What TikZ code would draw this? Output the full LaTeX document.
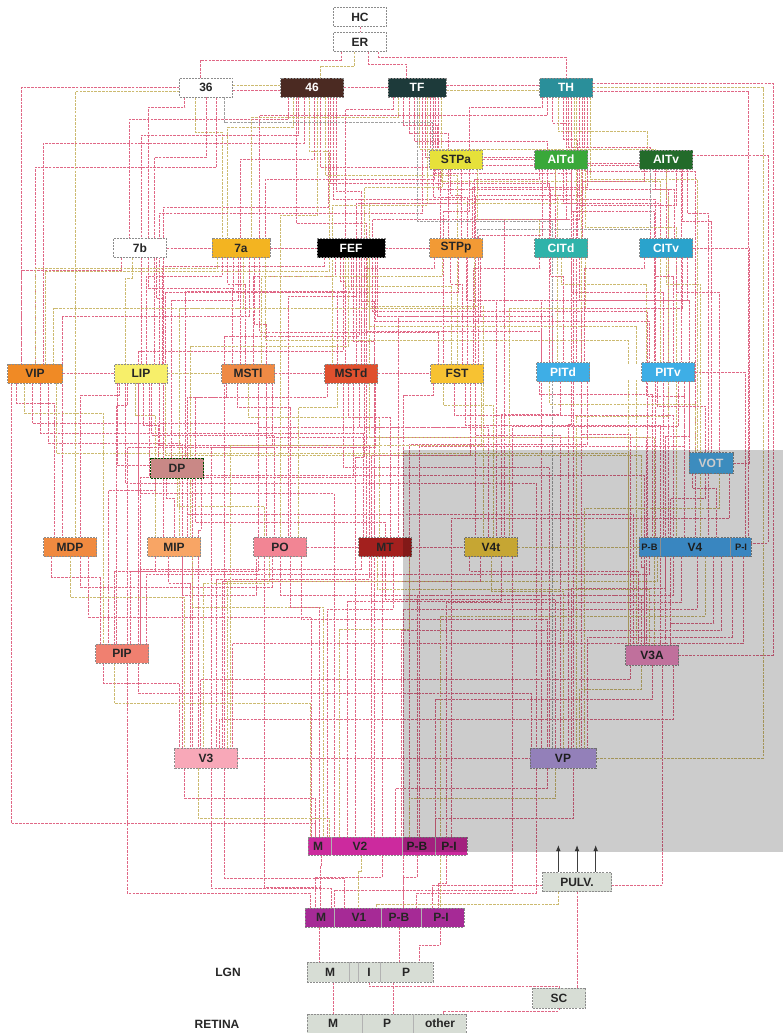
\documentclass[tikz,border=0pt]{standalone}
\usepackage{fontspec}
\setmainfont{Liberation Sans}
\usetikzlibrary{backgrounds,arrows.meta}
\definecolor{lr}{RGB}{224,104,134}
\definecolor{ly}{RGB}{204,186,112}
\definecolor{lg}{RGB}{160,160,160}
\definecolor{c46}{RGB}{75,42,34}
\definecolor{cTF}{RGB}{29,58,58}
\definecolor{cTH}{RGB}{42,143,154}
\definecolor{cSTPa}{RGB}{230,225,58}
\definecolor{cAITd}{RGB}{58,168,58}
\definecolor{cAITv}{RGB}{35,107,42}
\definecolor{c7a}{RGB}{243,180,33}
\definecolor{cSTPp}{RGB}{242,154,53}
\definecolor{cCITd}{RGB}{47,179,170}
\definecolor{cCITv}{RGB}{42,163,204}
\definecolor{cVIP}{RGB}{240,138,37}
\definecolor{cLIP}{RGB}{247,239,106}
\definecolor{cMSTl}{RGB}{239,138,69}
\definecolor{cMSTd}{RGB}{224,80,46}
\definecolor{cFST}{RGB}{247,194,50}
\definecolor{cPIT}{RGB}{62,174,230}
\definecolor{cDP}{RGB}{201,136,134}
\definecolor{cVOT}{RGB}{75,175,238}
\definecolor{cMDP}{RGB}{240,138,64}
\definecolor{cMIP}{RGB}{248,165,101}
\definecolor{cPO}{RGB}{242,133,148}
\definecolor{cMT}{RGB}{163,32,30}
\definecolor{cV4t}{RGB}{248,208,64}
\definecolor{cV4}{RGB}{72,168,240}
\definecolor{cPIP}{RGB}{240,128,112}
\definecolor{cV3A}{RGB}{240,140,196}
\definecolor{cV3}{RGB}{248,168,184}
\definecolor{cVP}{RGB}{184,160,232}
\definecolor{cV2}{RGB}{204,42,158}
\definecolor{cV1}{RGB}{166,42,150}
\definecolor{cSub}{RGB}{215,221,213}
\begin{document}
\begin{tikzpicture}[x=0.75pt,y=-0.75pt,
  ar/.style={draw=black!45, dash pattern=on 1.5pt off 0.8pt, line width=0.4pt, inner sep=0pt,
     minimum height=14.25pt, minimum width=39.75pt, font=\bfseries\fontsize{9}{9}\selectfont, text=black!85},
  wt/.style={text=white},
  lbl/.style={font=\bfseries\fontsize{9}{9}\selectfont, inner sep=0pt, text=black!85},
  sml/.style={font=\bfseries\fontsize{7}{7}\selectfont, inner sep=0pt, text=black!85},
  cn/.style={line width=0.3pt, dash pattern=on 2pt off 0.8pt},
  dv/.style={draw=black!30, line width=0.3pt}]
\useasboundingbox (0,0) rectangle (783,1033);
% ---------- nodes ----------
\node[ar, fill=white] (HC) at (360,17) {HC};
\node[ar, fill=white] (ER) at (360,42) {ER};
\node[ar, fill=white] (a36) at (206,87.5) {36};
\node[ar, fill=c46, wt, minimum width=47.25pt] (a46) at (312,87.5) {46};
\node[ar, fill=cTF, wt, minimum width=43.5pt] (TF) at (417,87.5) {TF};
\node[ar, fill=cTH, wt] (TH) at (566,87.5) {TH};
\node[ar, fill=cSTPa] (STPa) at (456,159.5) {STPa};
\node[ar, fill=cAITd, wt] (AITd) at (561,159.5) {AITd};
\node[ar, fill=cAITv, wt] (AITv) at (666,159.5) {AITv};
\node[ar, fill=white] (a7b) at (140,248) {7b};
\node[ar, fill=c7a, minimum width=43.5pt] (a7a) at (241,248) {7a};
\node[ar, fill=black, wt, minimum width=51pt] (FEF) at (351,248) {FEF};
\node[ar, fill=cSTPp] (STPp) at (456,248) {STPp};
\node[ar, fill=cCITd, wt] (CITd) at (561,248) {CITd};
\node[ar, fill=cCITv, wt] (CITv) at (666,248) {CITv};
\node[ar, fill=cVIP, minimum width=41.25pt] (VIP) at (35,373.5) {VIP};
\node[ar, fill=cLIP] (LIP) at (141,373.5) {LIP};
\node[ar, fill=cMSTl] (MSTl) at (248,373.5) {MSTl};
\node[ar, fill=cMSTd] (MSTd) at (351,373.5) {MSTd};
\node[ar, fill=cFST] (FST) at (457,373.5) {FST};
\node[ar, fill=cPIT, wt] (PITd) at (563,372) {PITd};
\node[ar, fill=cPIT, wt] (PITv) at (668,372) {PITv};
\node[ar, fill=cDP, draw=green!30!black, minimum height=15pt] (DP) at (177,468) {DP};
\node[ar, fill=cVOT, wt, minimum width=33pt, minimum height=15.75pt] (VOT) at (711,463) {VOT};
\node[ar, fill=cMDP] (MDP) at (70,547) {MDP};
\node[ar, fill=cMIP] (MIP) at (174,547) {MIP};
\node[ar, fill=cPO] (PO) at (280,547) {PO};
\node[ar, fill=cMT] (MT) at (385,547) {MT};
\node[ar, fill=cV4t] (V4t) at (491,547) {V4t};
\node[ar, fill=cV4, minimum width=84pt] (V4) at (695,547) {V4};
\node[sml] (V4b) at (649.5,547) {P-B};
\node[sml] (V4i) at (741,547) {P-I};
\draw[dv] (660,538) -- (660,556);
\draw[dv] (730,538) -- (730,556);
\node[ar, fill=cPIP] (PIP) at (122,653.5) {PIP};
\node[ar, fill=cV3A, minimum height=15pt] (V3A) at (652,655) {V3A};
\node[ar, fill=cV3, minimum width=47.25pt, minimum height=15pt] (V3) at (206,758) {V3};
\node[ar, fill=cVP, minimum width=49.5pt, minimum height=15pt] (VP) at (563,758) {VP};
% V2
\node[ar, fill=cV2, minimum width=119.25pt, minimum height=13.5pt] (V2) at (387.5,846) {};
\node[lbl] (V2m) at (318,846) {M};
\node[lbl] (V2t) at (360,846) {V2};
\node[lbl] (V2b) at (417,846) {P-B};
\node[lbl] (V2i) at (449,846) {P-I};
\draw[dv] (331,837) -- (331,855);
\draw[dv] (402,837) -- (402,855);
\draw[dv] (435,837) -- (435,855);
% PULV
\node[ar, fill=cSub, minimum width=51.75pt] (PULV) at (577,882) {PULV.};
% V1
\node[ar, fill=cV1, minimum height=14.25pt, minimum width=119.25pt] (V1) at (384.5,917.5) {};
\node[lbl] (V1m) at (321,917.5) {M};
\node[lbl] (V1t) at (359,917.5) {V1};
\node[lbl] (V1b) at (399,917.5) {P-B};
\node[lbl] (V1i) at (441,917.5) {P-I};
\draw[dv] (334,908) -- (334,927);
\draw[dv] (381,908) -- (381,927);
\draw[dv] (421,908) -- (421,927);
% LGN
\node[lbl] (lLGN) at (228,972) {LGN};
\node[ar, fill=cSub, minimum width=94.5pt, minimum height=15pt] (LGN) at (370,972) {};
\node[lbl] (LGNm) at (330,972) {M};
\node[lbl] (LGNi) at (369,972) {I};
\node[lbl] (LGNp) at (406,972) {P};
\draw[dv] (349,962) -- (349,982);
\draw[dv] (358,962) -- (358,982);
\draw[dv] (380,962) -- (380,982);
% SC
\node[ar, fill=cSub, minimum height=15pt] (SC) at (559,998) {SC};
% Retina
\node[lbl] (lRET) at (217,1024) {RETINA};
\node[ar, fill=cSub, minimum width=119.25pt, minimum height=14.25pt] (RET) at (386.5,1023.5) {};
\node[lbl] (RETm) at (333,1023.5) {M};
\node[lbl] (RETp) at (387,1023.5) {P};
\node[lbl] (RETo) at (440,1023.5) {other};
\draw[dv] (362,1014) -- (362,1033);
\draw[dv] (413,1014) -- (413,1033);
% white gaps
\fill[white] (589,240) rectangle (639,256);
\fill[white] (591,364) rectangle (641,380);
% ---------- connectors ----------
\begin{pgfonlayer}{background}
\fill[white] (0,0) rectangle (783,1033);
\draw[cn,draw=lr] (HC.south) -- (ER.north);
\foreach \a/\da/\h/\b/\db/\c in {
ER/-14/8/a36/-4/lr, ER/-4/14/a46/6/ly, ER/6/12/TF/-8/lr, ER/14/5/TH/0/lr,
a36/-16/10/a7b/6/lr, a36/-8/35/a7a/-14/ly, a36/0/60/LIP/10/lr, a36/8/70/VIP/0/lr, a36/14/25/STPa/-18/lg,
a46/-18/22/a7b/-8/lr, a46/-14/30/a7a/-10/ly, a46/-10/38/LIP/0/lr, a46/-6/46/VIP/6/lr, a46/-2/54/FEF/-16/ly,
a46/2/62/MSTl/-6/lr, a46/6/70/STPp/-12/lr, a46/10/78/FST/0/ly, a46/14/86/PITd/-10/lr, a46/18/94/MSTd/8/lr,
a46/16/102/V4/-30/lr, a46/12/110/DP/-10/lr, a46/4/118/PO/0/ly, a46/-12/126/MT/-14/lr,
TF/-18/12/FEF/-4/lr, TF/-14/20/a7a/8/ly, TF/-10/28/STPa/-14/lr, TF/-6/36/STPp/-6/lr, TF/-2/44/AITd/-10/lr,
TF/2/52/AITv/-8/ly, TF/6/60/CITd/-4/lr, TF/10/68/CITv/0/lr, TF/14/76/PITd/6/lr, TF/18/84/PITv/-6/ly,
TF/16/92/V4/-20/lr, TF/12/100/FST/8/lr, TF/8/108/MSTd/-14/ly, TF/4/116/LIP/14/lr, TF/0/124/VP/-8/lg,
TH/-18/10/STPa/10/lr, TH/-14/18/a7a/14/lr, TH/-10/26/AITd/8/lr, TH/-6/34/AITv/-14/ly, TH/-2/42/CITd/12/lr,
TH/2/50/CITv/-12/lr, TH/6/58/PITd/14/ly, TH/10/66/PITv/10/lr, TH/14/74/V4/0/lr, TH/18/82/VOT/-10/ly,
TH/16/90/STPp/12/lr, TH/12/98/FST/14/lr, TH/8/106/MSTd/14/ly, TH/4/114/VP/8/lr, TH/0/122/V4t/10/lr,
STPa/-16/10/a7a/18/lr, STPa/-10/18/FEF/10/ly, STPa/-4/26/STPp/4/lr, STPa/4/34/MSTd/4/lr, STPa/10/42/FST/-10/lr, STPa/16/50/CITd/-16/ly,
AITd/-16/10/STPp/14/lr, AITd/-10/18/CITd/-8/lr, AITd/-4/26/PITd/-4/ly, AITd/2/34/CITv/-4/lr, AITd/8/42/PITv/-10/lr,
AITd/14/50/FEF/16/lr, AITd/18/58/V4/-14/ly, AITd/-14/66/FST/16/lr,
AITv/-16/12/CITd/16/lr, AITv/-8/20/CITv/6/lr, AITv/0/28/PITv/0/ly, AITv/8/36/PITd/10/lr, AITv/16/44/V4/10/lr,
AITv/12/52/VOT/0/lr, AITv/-12/60/STPp/16/lg,
a7b/-14/12/VIP/-10/lr, a7b/-6/20/LIP/-12/ly, a7b/6/30/MSTl/-12/lr, a7b/12/40/MIP/-8/lr,
a7a/-18/10/VIP/0/ly, a7a/-14/18/LIP/4/lr, a7a/-10/26/MSTl/-2/lr, a7a/-6/34/MSTd/-10/lr, a7a/-2/42/DP/-4/lr,
a7a/2/50/MIP/4/ly, a7a/6/58/MDP/-6/lr, a7a/10/66/PO/-10/lr, a7a/14/74/FST/-14/lr, a7a/18/82/V3A/-18/ly,
FEF/-20/8/LIP/16/lr, FEF/-16/13/VIP/8/ly, FEF/-12/18/MSTl/4/lr, FEF/-8/23/MSTd/-4/lr, FEF/-4/28/FST/-4/ly,
FEF/0/33/DP/6/lr, FEF/4/38/PO/6/lr, FEF/8/43/MT/-8/lr, FEF/12/48/V4t/-6/ly, FEF/16/53/V4/-36/lr,
FEF/20/58/PITd/-8/lr, FEF/18/63/PITv/-14/lr, FEF/14/68/V3A/-12/ly, FEF/10/73/VP/-16/lr, FEF/6/78/V3/14/lr,
FEF/2/83/V2/-10/lr, FEF/-2/88/MIP/12/ly, FEF/-6/93/PIP/12/lr,
STPp/-16/10/MSTd/10/lr, STPp/-10/18/MSTl/10/ly, STPp/-4/26/FST/4/lr, STPp/2/34/LIP/18/lr, STPp/8/42/PITd/-16/lr,
STPp/14/50/VIP/14/ly, STPp/18/58/MT/10/lr,
CITd/-16/10/FST/12/lr, CITd/-8/18/PITd/0/lr, CITd/0/26/PITv/-16/ly, CITd/8/34/V4/-24/lr, CITd/14/42/VOT/-16/lr, CITd/18/50/V4t/14/ly,
CITv/-16/10/PITd/16/lr, CITv/-8/18/PITv/4/lr, CITv/0/26/V4/4/ly, CITv/8/34/VOT/6/lr, CITv/16/42/V4t/4/lr, CITv/12/50/VP/14/lr,
VIP/-14/20/MDP/-12/lr, VIP/-8/30/PIP/-14/ly, VIP/-2/40/PO/-16/lr, VIP/4/50/MT/-16/lr, VIP/10/60/V3/-18/lr,
VIP/16/70/V3A/-18/ly, VIP/-18/440/V2/-54/lr,
LIP/-16/12/MDP/8/lr, LIP/-10/22/PIP/-4/lr, LIP/-4/32/MIP/-14/ly, LIP/2/42/DP/-14/lr, LIP/8/52/PO/-4/lr,
LIP/14/62/MT/-12/lr, LIP/18/72/V4/-40/ly, LIP/-18/82/V3/-10/lr, LIP/6/92/V3A/-6/lr, LIP/-12/100/VP/-20/lr, LIP/-2/110/V2/-40/lr,
MSTl/-16/14/MIP/10/lr, MSTl/-8/24/PO/8/lr, MSTl/0/34/MT/-4/ly, MSTl/8/44/V4t/-12/lr, MSTl/14/54/V3A/-4/lr, MSTl/18/64/PIP/4/lr,
MSTd/-18/14/DP/14/lr, MSTd/-10/24/PO/14/ly, MSTd/-2/34/MT/4/lr, MSTd/6/44/V4t/-2/lr, MSTd/14/54/V3A/2/ly,
MSTd/18/64/V3/4/lr, MSTd/10/74/V2/-24/lr, MSTd/-6/84/VP/-10/lr, MSTd/2/94/PIP/14/lr,
FST/-18/12/MT/14/lr, FST/-10/22/V4t/2/ly, FST/-2/32/V4/-16/lr, FST/6/42/V3A/6/lr, FST/14/52/VP/-2/lr,
FST/18/62/V3/18/ly, FST/10/72/V2/-12/lr,
PITd/-18/12/V4/-32/lr, PITd/-10/22/VOT/-12/ly, PITd/-2/32/V4t/8/lr, PITd/6/42/VP/4/lr, PITd/14/52/V3A/-16/lr, PITd/18/62/V2/16/lr,
PITv/-16/14/V4/-8/lr, PITv/-8/24/VOT/-4/lr, PITv/0/34/VP/10/ly, PITv/8/44/V4t/16/lr, PITv/16/54/V3A/10/lr, PITv/12/64/V2/24/lr,
DP/-16/12/PIP/-10/lr, DP/-8/20/MIP/0/lr, DP/0/28/PO/-12/ly, DP/8/36/V3A/-14/lr, DP/14/44/MT/0/lr, DP/18/52/V3/-6/lr,
VOT/-14/14/V4/16/lr, VOT/-4/24/V3A/14/lr, VOT/6/34/VP/16/ly, VOT/14/44/V2/48/lr,
MDP/-14/20/PIP/-16/lr, MDP/0/40/V3/-16/ly, MDP/14/60/V2/-57/lr, MDP/8/30/PO/-6/lr,
MIP/-14/14/PIP/-6/lr, MIP/-4/26/V3/-12/lr, MIP/6/38/PO/-18/lr, MIP/14/50/V2/-48/ly,
PO/-16/14/PIP/6/lr, PO/-8/26/V3/-2/ly, PO/0/38/V3A/-8/lr, PO/8/50/V2/-51/lr, PO/16/62/VP/-12/lr, PO/-12/330/V1/-48/lr,
MT/-18/12/PIP/14/lr, MT/-12/22/V3/8/lr, MT/-6/32/V3A/-2/ly, MT/0/42/VP/-6/lr, MT/6/52/V2/-45/lr, MT/18/72/V2/-36/ly, MT/-2/320/V1/-52/lr,
V4t/-16/14/V3A/-10/lr, V4t/-8/24/V3/12/lr, V4t/0/34/VP/0/ly, V4t/8/44/V2/-30/lr, V4t/16/333/V1/-38/lr,
V4/-40/10/V3A/-6/lr, V4/-34/17/PIP/18/lr, V4/-28/24/V3/16/ly, V4/-22/31/VP/6/lr, V4/-16/38/V2/22/lr,
V4/-10/45/V2/44/lr, V4/2/52/V1/14/lr, V4/8/59/V1/42/ly, V4/14/66/V3A/14/lr, V4/20/73/V2/10/lr,
V4/28/80/VP/18/lr, V4/36/86/V3/20/lr,
PIP/-14/20/V3/-20/lr, PIP/-6/40/V2/-58/ly, PIP/4/230/V1/-56/lr, PIP/12/30/VP/-24/lr,
V3A/-16/14/V3/-4/lr, V3A/-8/24/VP/12/ly, V3A/0/34/V2/36/lr, V3A/8/220/V1/36/lr, V3A/16/54/V3/10/lr,
V3/-16/30/V2/-54/lr, V3/-6/50/V2/-44/ly, V3/4/120/V1/-40/lr, V3/14/110/V1/-30/lr,
VP/-12/20/V2/6/lr, VP/-6/30/V2/16/ly, VP/8/50/V2/36/lr, VP/-20/125/V1/24/lr,
V2/-50/10/V1/-48/lr, V2/-20/16/V1/-20/ly, V2/22/22/V1/14/lr, V2/44/28/V1/40/lr,
V1/-48.75/12/LGN/-37.9/lr, V1/11.25/12/LGN/21.75/lr, V1/41.6/18/LGN/36.75/lr,
LGN/-27.75/12/RET/-40.1/lr, LGN/17.25/12/RET/4.9/lr}
{\draw[cn,draw=\c] ([xshift=\da*1pt]\a.south) -- ++(0,\h) -| ([xshift=\db*1pt]\b.north);}
% same-row links
\draw[cn,draw=lr] ([yshift=-2pt]a36.east) -- ([yshift=-2pt]a46.west);
\draw[cn,draw=ly] ([yshift=2pt]a36.east) -- ([yshift=2pt]a46.west);
\draw[cn,draw=lr] (a46.east) -- (TF.west);
\draw[cn,draw=lr] ([yshift=2pt]TF.east) -- ([yshift=2pt]TH.west);
\draw[cn,draw=ly] ([yshift=-2pt]TF.east) -- ([yshift=-2pt]TH.west);
\draw[cn,draw=lr] (STPa.east) -- (AITd.west);
\draw[cn,draw=lr] (a7b.east) -- (a7a.west);
\draw[cn,draw=lr] (a7a.east) -- (FEF.west);
\draw[cn,draw=lr] (FEF.east) -- (STPp.west);
\draw[cn,draw=lr] (VIP.east) -- (LIP.west);
\draw[cn,draw=ly] (LIP.east) -- (MSTl.west);
\draw[cn,draw=lr] (MSTl.east) -- (MSTd.west);
\draw[cn,draw=lr] (MSTd.east) -- (FST.west);
\draw[cn,draw=lr] (PO.east) -- (MT.west);
\draw[cn,draw=lr] (MT.east) -- (V4t.west);
\draw[cn,draw=ly] (V4t.east) -- (V4.west);
\draw[cn,draw=lr] (V3.east) -- (VP.west);
% long side routes
\draw[cn,draw=lr] ([yshift=-3pt]TH.east) -| ([xshift=40pt]V4.north);
\draw[cn,draw=lr] ([yshift=3pt]TH.east) -- ++(180,0) |- (V3A.east);
\draw[cn,draw=ly] (TH.east) -- ++(170,0) |- (VP.east);
\draw[cn,draw=lr] ([yshift=3pt]AITv.east) -- ++(75,0) |- ([yshift=3pt]V4.east);
\draw[cn,draw=lr] (CITv.east) -- ++(56,0) |- (VOT.east);
\draw[cn,draw=lr] (PITv.east) -- ++(50,0) |- ([yshift=-3pt]V4.east);
\draw[cn,draw=lr] (a36.west) -| ([xshift=-10pt]VIP.north);
\draw[cn,draw=ly] ([yshift=-3pt]a36.west) -| ([xshift=4pt]MDP.north);
% subcortical
\draw[cn,draw=ly] ([xshift=-14pt]PULV.south) -- ++(0,12) -| ([xshift=-6pt]V1.north);
\draw[cn,draw=lr] (PULV.south) -- (PULV.south |- SC.north);
\draw[cn,draw=lr] ([xshift=-0.75pt]LGN.south) -- ++(0,4) -| (SC.north);
\draw[cn,draw=lr] ([xshift=42.4pt]RET.north) -- ++(0,-3) -| (SC.south);
\end{pgfonlayer}
% arrows from PULV
\foreach \d in {-14,0,14}
  {\draw[-{Latex[length=4.5pt,width=3.5pt]}, line width=0.45pt, black!75] ([xshift=\d*1pt]PULV.north) -- ++(0,-27);}
% grey overlay
\fill[black, fill opacity=0.2] (403,450) rectangle (783,852);
\end{tikzpicture}
\end{document}
